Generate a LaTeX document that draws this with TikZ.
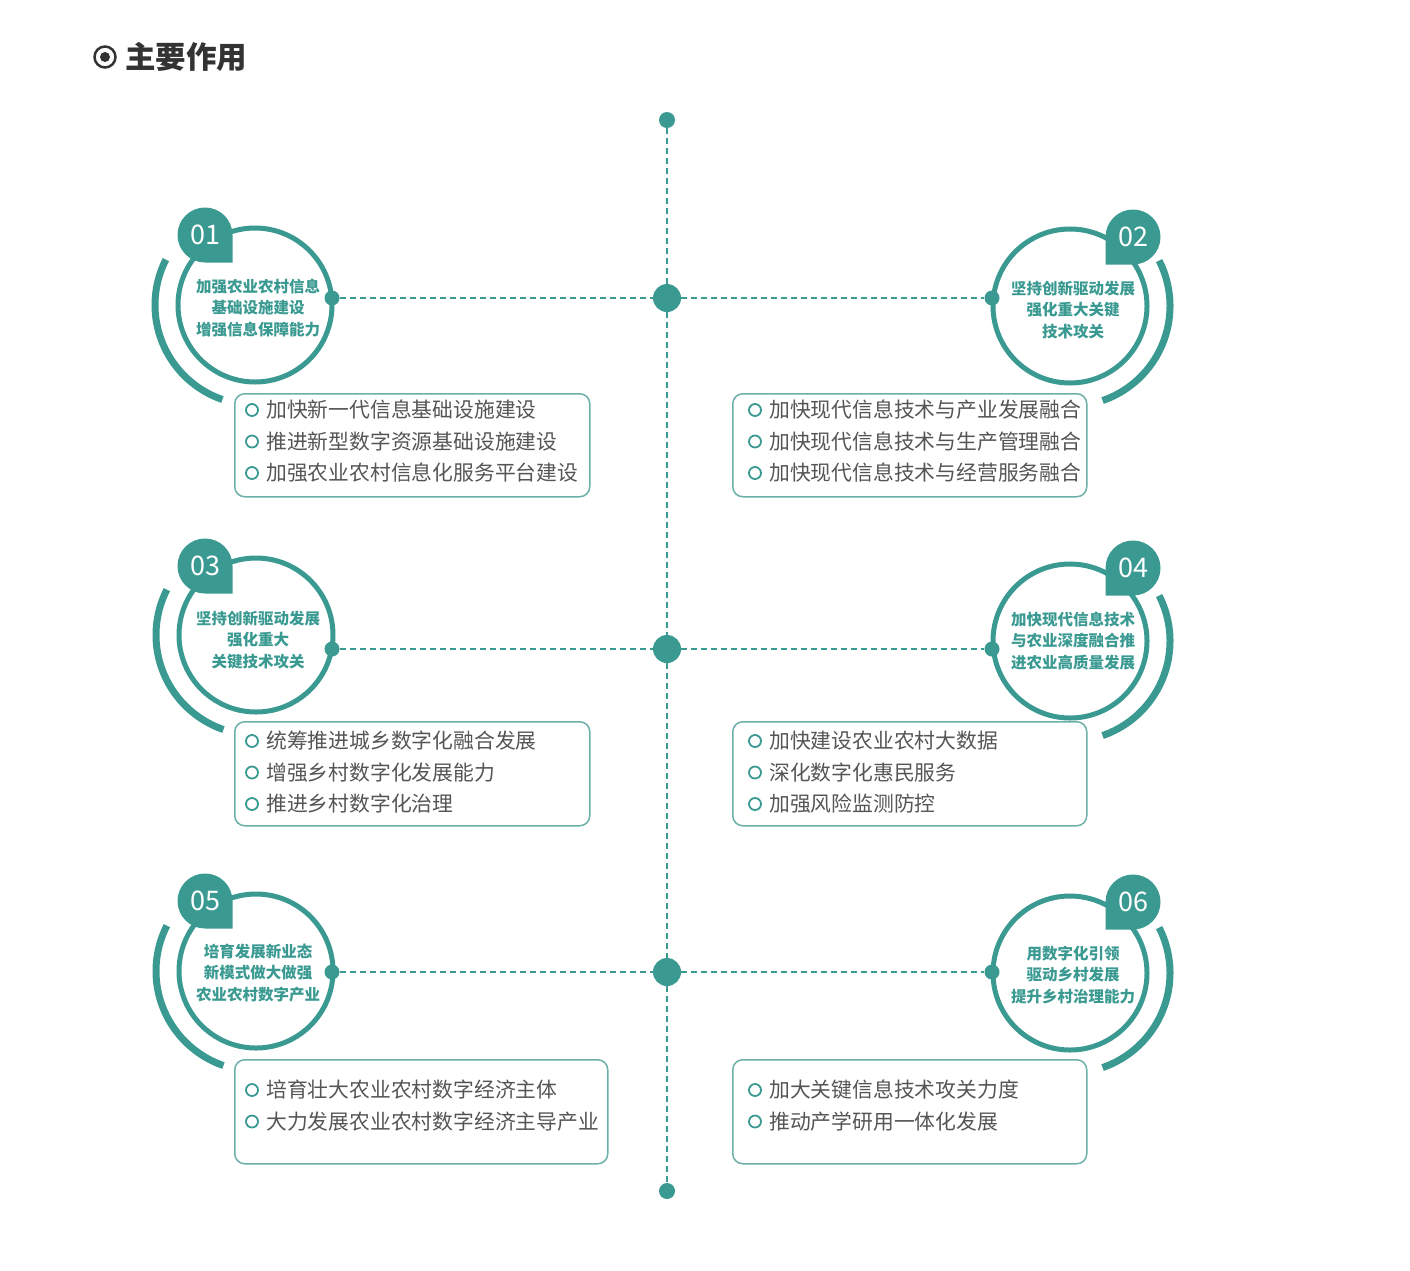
\documentclass[tikz,border=0pt]{standalone}
\usepackage{fontspec}
\setmainfont{Noto Sans CJK SC}
\usetikzlibrary{calc}
\definecolor{teal1}{HTML}{3A9A92}
\definecolor{boxline}{HTML}{6DB0AA}
\definecolor{txtgray}{HTML}{555555}
\definecolor{headgray}{HTML}{333333}
\tikzset{
  ring/.style={circle, draw=teal1, line width=5pt, minimum size=154pt, inner sep=0pt},
  outerarc/.style={draw=teal1, line width=7pt},
  dashline/.style={draw=teal1, line width=1.2pt, dash pattern=on 6pt off 4pt},
  bigdot/.style={circle, fill=teal1, minimum size=28pt, inner sep=0pt},
  smalldot/.style={circle, fill=teal1, minimum size=16pt, inner sep=0pt},
  ringdot/.style={circle, fill=teal1, minimum size=15pt, inner sep=0pt},
  itembox/.style={draw=boxline, line width=1.5pt, rounded corners=10pt, fill=white, anchor=north west, inner sep=0pt},
  circtext/.style={text=teal1, font=\fontsize{15.5}{21.5}\selectfont\bfseries, align=center, inner sep=0pt},
  itemtext/.style={text=txtgray, font=\fontsize{20.8}{24}\selectfont, anchor=west, inner sep=0pt},
  bulletring/.style={circle, draw=teal1, line width=1.8pt, minimum size=12pt, inner sep=0pt},
  badgenum/.style={text=white, font=\fontsize{27}{27}\selectfont, inner sep=0pt},
}
\begin{document}
\begin{tikzpicture}[x=1pt,y=-1pt]
\useasboundingbox[fill=white] (0,0) rectangle (1410,1270);

% header
\node[circle, draw=headgray, line width=2.5pt, minimum size=21pt, inner sep=0pt] (hring) at (105,57) {};
\node[circle, fill=headgray, minimum size=10pt, inner sep=0pt] (hdot) at (105,57) {};
\node[text=headgray, font=\fontsize{30.5}{31}\selectfont\bfseries, anchor=west, inner sep=0pt] (htitle) at (125,57) {主要作用};

% central axis
\node[smalldot] (top) at (667,120) {};
\node[smalldot] (bot) at (667,1191) {};
\node[bigdot] (m1) at (667,298) {};
\node[bigdot] (m2) at (667,649) {};
\node[bigdot] (m3) at (667,972) {};
\draw[dashline] (top) -- (m1);
\draw[dashline] (m1) -- (m2);
\draw[dashline] (m2) -- (m3);
\draw[dashline] (m3) -- (bot);

% circles
\node[ring] (c1) at (255,305) {};
\node[ring] (c3) at (256,635) {};
\node[ring] (c5) at (256,971) {};
\node[ring] (c2) at (1070,306) {};
\node[ring] (c4) at (1070,641) {};
\node[ring] (c6) at (1070,973) {};

% outer arcs
\foreach \c in {c1,c3,c5}{
  \draw[outerarc] (\c.center) ++(153:100pt) arc[start angle=153, end angle=251, radius=100pt];
}
\foreach \c in {c2,c4,c6}{
  \draw[outerarc] (\c.center) ++(27:100pt) arc[start angle=27, end angle=-71, radius=100pt];
}

% badges
\foreach \n/\bx/\by in {01/205/235, 03/205/566, 05/205/901}{
  \fill[teal1] (\bx,\by) ++(27.5pt,0pt) -- ++(0pt,-27.5pt) -- ++(-27.5pt,0pt) arc[start angle=270, end angle=0, radius=27.5pt] -- cycle;
  \node[badgenum] (badge\n) at (\bx,\by) {\n};
}
\foreach \n/\bx/\by in {02/1133/237, 04/1133/568, 06/1133/902}{
  \fill[teal1] (\bx,\by) ++(-27.5pt,0pt) -- ++(0pt,-27.5pt) -- ++(27.5pt,0pt) arc[start angle=-90, end angle=180, radius=27.5pt] -- cycle;
  \node[badgenum] (badge\n) at (\bx,\by) {\n};
}

% ring dots
\node[ringdot] (l1) at (332,298) {};
\node[ringdot] (l2) at (332,649) {};
\node[ringdot] (l3) at (332,972) {};
\node[ringdot] (r1) at (992,298) {};
\node[ringdot] (r2) at (992,649) {};
\node[ringdot] (r3) at (992,972) {};
\draw[dashline] (l1) -- (m1);
\draw[dashline] (m1) -- (r1);
\draw[dashline] (l2) -- (m2);
\draw[dashline] (m2) -- (r2);
\draw[dashline] (l3) -- (m3);
\draw[dashline] (m3) -- (r3);

% circle texts
\node[circtext] (t1) at (258,308) {加强农业农村信息\\基础设施建设\\增强信息保障能力};
\node[circtext] (t2) at (1073,310) {坚持创新驱动发展\\强化重大关键\\技术攻关};
\node[circtext] (t3) at (258,640) {坚持创新驱动发展\\强化重大\\关键技术攻关};
\node[circtext] (t4) at (1073,641) {加快现代信息技术\\与农业深度融合推\\进农业高质量发展};
\node[circtext] (t5) at (258,973) {培育发展新业态\\新模式做大做强\\农业农村数字产业};
\node[circtext] (t6) at (1073,975) {用数字化引领\\驱动乡村发展\\提升乡村治理能力};

% item boxes
\node[itembox, minimum width=355pt, minimum height=103pt] (box1) at (234,393) {};
\node[itembox, minimum width=354pt, minimum height=103pt] (box2) at (732,393) {};
\node[itembox, minimum width=355pt, minimum height=104pt] (box3) at (234,721) {};
\node[itembox, minimum width=354pt, minimum height=104pt] (box4) at (732,721) {};
\node[itembox, minimum width=373pt, minimum height=104pt] (box5) at (234,1059) {};
\node[itembox, minimum width=354pt, minimum height=104pt] (box6) at (732,1059) {};

% items
\foreach \t [count=\i] in {加快新一代信息基础设施建设, 推进新型数字资源基础设施建设, 加强农业农村信息化服务平台建设}{
  \node[bulletring] (bu1-\i) at (252,{410+31.5*(\i-1)}) {};
  \node[itemtext] (it1-\i) at (266,{410+31.5*(\i-1)}) {\t};
}
\foreach \t [count=\i] in {加快现代信息技术与产业发展融合, 加快现代信息技术与生产管理融合, 加快现代信息技术与经营服务融合}{
  \node[bulletring] (bu2-\i) at (755,{410+31.5*(\i-1)}) {};
  \node[itemtext] (it2-\i) at (769,{410+31.5*(\i-1)}) {\t};
}
\foreach \t [count=\i] in {统筹推进城乡数字化融合发展, 增强乡村数字化发展能力, 推进乡村数字化治理}{
  \node[bulletring] (bu3-\i) at (252,{741+31.5*(\i-1)}) {};
  \node[itemtext] (it3-\i) at (266,{741+31.5*(\i-1)}) {\t};
}
\foreach \t [count=\i] in {加快建设农业农村大数据, 深化数字化惠民服务, 加强风险监测防控}{
  \node[bulletring] (bu4-\i) at (755,{741+31.5*(\i-1)}) {};
  \node[itemtext] (it4-\i) at (769,{741+31.5*(\i-1)}) {\t};
}
\foreach \t [count=\i] in {培育壮大农业农村数字经济主体, 大力发展农业农村数字经济主导产业}{
  \node[bulletring] (bu5-\i) at (252,{1090+31.5*(\i-1)}) {};
  \node[itemtext] (it5-\i) at (266,{1090+31.5*(\i-1)}) {\t};
}
\foreach \t [count=\i] in {加大关键信息技术攻关力度, 推动产学研用一体化发展}{
  \node[bulletring] (bu6-\i) at (755,{1090+31.5*(\i-1)}) {};
  \node[itemtext] (it6-\i) at (769,{1090+31.5*(\i-1)}) {\t};
}
\end{tikzpicture}
\end{document}
